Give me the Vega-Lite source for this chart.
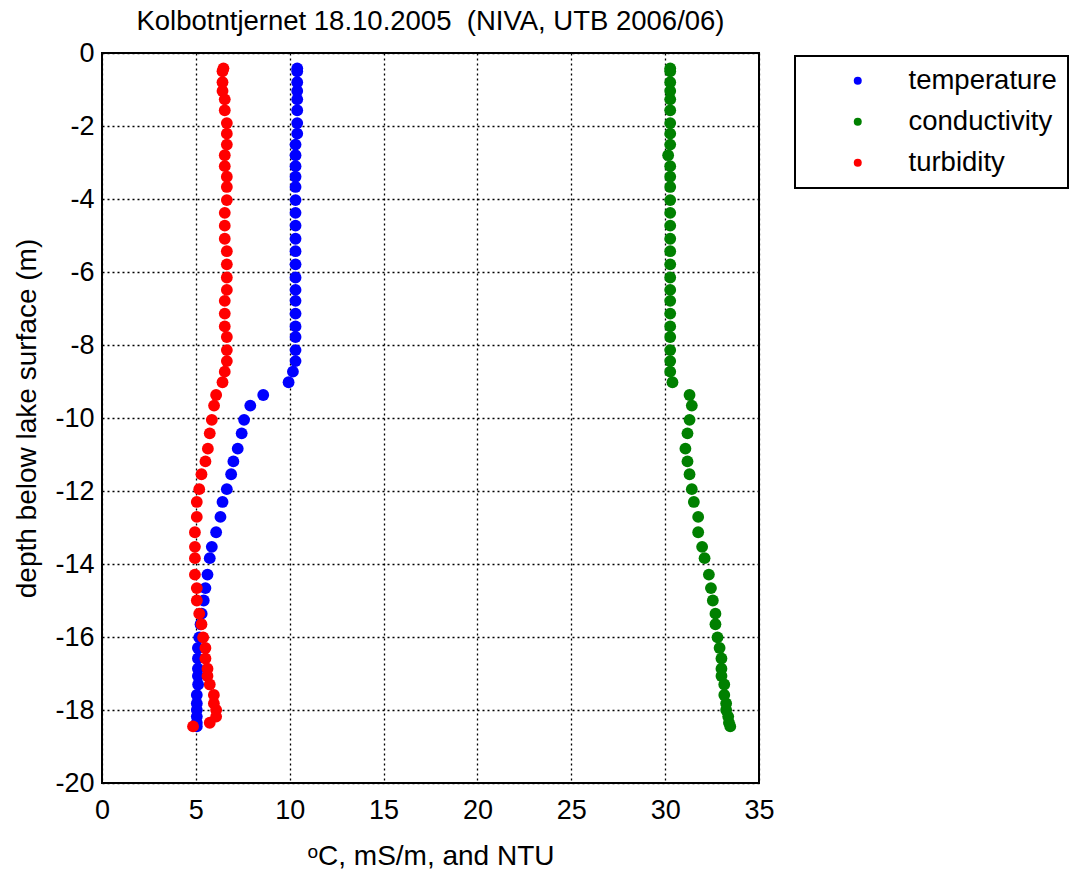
{
  "$schema": "https://vega.github.io/schema/vega-lite/v6.json",
  "width": 657,
  "height": 730,
  "autosize": "none",
  "padding": {"left": 102, "top": 53, "right": 316, "bottom": 88},
  "background": "white",
  "title": {
    "text": "Kolbotntjernet 18.10.2005 \u00a0(NIVA, UTB 2006/06)",
    "font": "Liberation Sans",
    "fontSize": 27.5,
    "fontWeight": "normal",
    "color": "black",
    "anchor": "middle",
    "baseline": "alphabetic",
    "offset": 4,
    "dy": 22
  },
  "data": {
    "values": [
      {"depth": -0.42, "temperature": 10.40, "conductivity": 30.27, "turbidity": 6.47},
      {"depth": -0.50, "temperature": 10.40, "conductivity": 30.27, "turbidity": 6.42},
      {"depth": -0.80, "temperature": 10.40, "conductivity": 30.27, "turbidity": 6.42},
      {"depth": -1.04, "temperature": 10.40, "conductivity": 30.27, "turbidity": 6.42},
      {"depth": -1.27, "temperature": 10.40, "conductivity": 30.27, "turbidity": 6.54},
      {"depth": -1.57, "temperature": 10.40, "conductivity": 30.27, "turbidity": 6.54},
      {"depth": -1.92, "temperature": 10.40, "conductivity": 30.27, "turbidity": 6.65},
      {"depth": -2.21, "temperature": 10.40, "conductivity": 30.27, "turbidity": 6.65},
      {"depth": -2.51, "temperature": 10.31, "conductivity": 30.27, "turbidity": 6.65},
      {"depth": -2.80, "temperature": 10.31, "conductivity": 30.16, "turbidity": 6.54},
      {"depth": -3.10, "temperature": 10.31, "conductivity": 30.27, "turbidity": 6.54},
      {"depth": -3.39, "temperature": 10.31, "conductivity": 30.27, "turbidity": 6.65},
      {"depth": -3.67, "temperature": 10.31, "conductivity": 30.27, "turbidity": 6.65},
      {"depth": -4.03, "temperature": 10.31, "conductivity": 30.27, "turbidity": 6.65},
      {"depth": -4.38, "temperature": 10.31, "conductivity": 30.27, "turbidity": 6.54},
      {"depth": -4.73, "temperature": 10.31, "conductivity": 30.27, "turbidity": 6.54},
      {"depth": -5.09, "temperature": 10.31, "conductivity": 30.27, "turbidity": 6.54},
      {"depth": -5.43, "temperature": 10.31, "conductivity": 30.27, "turbidity": 6.65},
      {"depth": -5.79, "temperature": 10.31, "conductivity": 30.27, "turbidity": 6.65},
      {"depth": -6.15, "temperature": 10.31, "conductivity": 30.27, "turbidity": 6.65},
      {"depth": -6.49, "temperature": 10.31, "conductivity": 30.27, "turbidity": 6.65},
      {"depth": -6.79, "temperature": 10.31, "conductivity": 30.27, "turbidity": 6.54},
      {"depth": -7.14, "temperature": 10.31, "conductivity": 30.27, "turbidity": 6.54},
      {"depth": -7.49, "temperature": 10.31, "conductivity": 30.27, "turbidity": 6.54},
      {"depth": -7.78, "temperature": 10.31, "conductivity": 30.27, "turbidity": 6.65},
      {"depth": -8.14, "temperature": 10.31, "conductivity": 30.27, "turbidity": 6.65},
      {"depth": -8.44, "temperature": 10.31, "conductivity": 30.27, "turbidity": 6.65},
      {"depth": -8.73, "temperature": 10.17, "conductivity": 30.27, "turbidity": 6.54},
      {"depth": -9.02, "temperature": 9.94, "conductivity": 30.39, "turbidity": 6.42},
      {"depth": -9.37, "temperature": 8.59, "conductivity": 31.30, "turbidity": 6.08},
      {"depth": -9.66, "temperature": 7.90, "conductivity": 31.42, "turbidity": 5.97},
      {"depth": -10.05, "temperature": 7.57, "conductivity": 31.30, "turbidity": 5.85},
      {"depth": -10.42, "temperature": 7.44, "conductivity": 31.19, "turbidity": 5.74},
      {"depth": -10.84, "temperature": 7.23, "conductivity": 31.08, "turbidity": 5.64},
      {"depth": -11.19, "temperature": 7.00, "conductivity": 31.19, "turbidity": 5.51},
      {"depth": -11.54, "temperature": 6.88, "conductivity": 31.30, "turbidity": 5.30},
      {"depth": -11.95, "temperature": 6.65, "conductivity": 31.42, "turbidity": 5.18},
      {"depth": -12.30, "temperature": 6.42, "conductivity": 31.53, "turbidity": 5.05},
      {"depth": -12.71, "temperature": 6.31, "conductivity": 31.76, "turbidity": 5.05},
      {"depth": -13.13, "temperature": 6.08, "conductivity": 31.76, "turbidity": 4.95},
      {"depth": -13.53, "temperature": 5.85, "conductivity": 31.97, "turbidity": 4.95},
      {"depth": -13.84, "temperature": 5.74, "conductivity": 32.10, "turbidity": 4.95},
      {"depth": -14.29, "temperature": 5.62, "conductivity": 32.33, "turbidity": 4.95},
      {"depth": -14.66, "temperature": 5.51, "conductivity": 32.44, "turbidity": 5.05},
      {"depth": -15.00, "temperature": 5.42, "conductivity": 32.54, "turbidity": 5.05},
      {"depth": -15.36, "temperature": 5.31, "conductivity": 32.68, "turbidity": 5.18},
      {"depth": -15.65, "temperature": 5.25, "conductivity": 32.68, "turbidity": 5.30},
      {"depth": -16.01, "temperature": 5.18, "conductivity": 32.79, "turbidity": 5.39},
      {"depth": -16.30, "temperature": 5.11, "conductivity": 32.90, "turbidity": 5.51},
      {"depth": -16.59, "temperature": 5.11, "conductivity": 33.00, "turbidity": 5.51},
      {"depth": -16.87, "temperature": 5.11, "conductivity": 33.00, "turbidity": 5.62},
      {"depth": -17.07, "temperature": 5.11, "conductivity": 33.00, "turbidity": 5.62},
      {"depth": -17.30, "temperature": 5.12, "conductivity": 33.15, "turbidity": 5.74},
      {"depth": -17.59, "temperature": 5.05, "conductivity": 33.15, "turbidity": 5.96},
      {"depth": -17.82, "temperature": 5.05, "conductivity": 33.25, "turbidity": 5.96},
      {"depth": -18.00, "temperature": 5.05, "conductivity": 33.25, "turbidity": 6.08},
      {"depth": -18.18, "temperature": 5.05, "conductivity": 33.36, "turbidity": 6.08},
      {"depth": -18.35, "temperature": 5.05, "conductivity": 33.40, "turbidity": 5.74},
      {"depth": -18.45, "temperature": 5.05, "conductivity": 33.47, "turbidity": 4.85}
    ]
  },
  "transform": [
    {"fold": ["temperature", "conductivity", "turbidity"], "as": ["variable", "value"]}
  ],
  "mark": {"type": "point", "filled": true, "size": 140, "opacity": 1, "shape": "circle"},
  "encoding": {
    "x": {
      "field": "value",
      "type": "quantitative",
      "scale": {"domain": [0, 35], "nice": false, "zero": false},
      "axis": {
        "title": "ᵒC, mS/m, and NTU",
        "values": [0, 5, 10, 15, 20, 25, 30, 35],
        "labelPadding": 14,
        "titlePadding": 19
      }
    },
    "y": {
      "field": "depth",
      "type": "quantitative",
      "scale": {"domain": [-20, 0], "nice": false, "zero": false},
      "axis": {
        "title": "depth below lake surface (m)",
        "values": [-20, -18, -16, -14, -12, -10, -8, -6, -4, -2, 0],
        "labelExpr": "datum.value == 0 ? '0' : '-' + abs(datum.value)",
        "labelPadding": 8,
        "titlePadding": 13
      }
    },
    "color": {
      "field": "variable",
      "type": "nominal",
      "scale": {
        "domain": ["temperature", "conductivity", "turbidity"],
        "range": ["#0000ff", "#008000", "#ff0000"]
      },
      "legend": {
        "title": null,
        "orient": "none",
        "legendX": 693,
        "legendY": 3,
        "padding": 11,
        "strokeColor": "black",
        "fillColor": "white",
        "symbolType": "circle",
        "symbolSize": 64,
        "symbolOffset": 38,
        "labelOffset": 37,
        "rowPadding": 12,
        "labelFont": "Liberation Sans",
        "labelFontSize": 27.5,
        "labelColor": "black"
      }
    },
    "order": {"field": "variable", "type": "nominal"}
  },
  "config": {
    "view": {"stroke": "black", "strokeWidth": 2},
    "legend": {"strokeWidth": 2},
    "axis": {
      "domain": false,
      "ticks": false,
      "grid": true,
      "labelFlush": false,
      "labelOverlap": false,
      "gridColor": "black",
      "gridOpacity": 1,
      "gridDash": [2, 3],
      "gridWidth": 1.3,
      "labelFont": "Liberation Sans",
      "labelFontSize": 27,
      "labelColor": "black",
      "titleFont": "Liberation Sans",
      "titleFontSize": 28,
      "titleFontWeight": "normal",
      "titleColor": "black"
    }
  }
}
